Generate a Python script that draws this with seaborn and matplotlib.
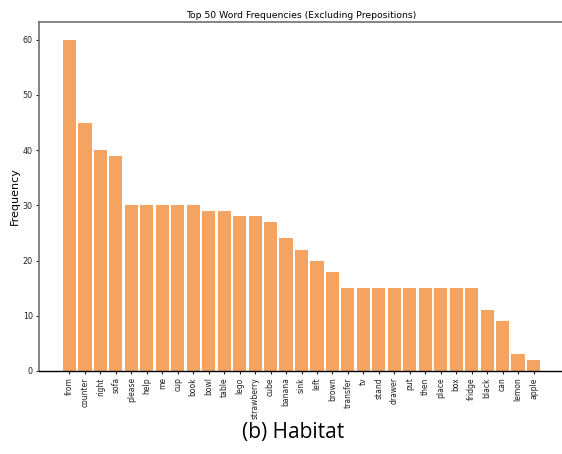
import matplotlib
matplotlib.use("Agg")
import matplotlib.pyplot as plt
import seaborn as sns
import pandas as pd

words = ["from", "counter", "right", "sofa", "please", "help", "me", "cup", "book",
         "bowl", "table", "lego", "strawberry", "cube", "banana", "sink", "left",
         "brown", "transfer", "tv", "stand", "drawer", "put", "then", "place", "box",
         "fridge", "black", "can", "lemon", "apple"]
counts = [60, 45, 40, 39, 30, 30, 30, 30, 30, 29, 29, 28, 28, 27, 24, 22, 20,
          18, 15, 15, 15, 15, 15, 15, 15, 15, 15, 11, 9, 3, 2]
yticks = [0, 10, 20, 30, 40, 50, 60]

df = pd.DataFrame({"word": words, "count": counts})

plt.rcParams['font.family'] = ['DejaVu Sans']

fig = plt.figure(figsize=(5.62, 4.54), dpi=100)
ax = fig.add_axes([39/562, 83/454, 525/562, 349/454])
sns.barplot(data=df, x="word", y="count", color="#F4A460", saturation=1,
            width=0.85, linewidth=0, ax=ax)
ax.set_xlim(-1.97, 31.97)
ax.set_ylim(0, 63.2)
ax.set_yticks(yticks)
ax.tick_params(axis='y', labelsize=5.8, length=2.5, width=0.8, pad=2, colors="#222222")
ax.tick_params(axis='x', labelsize=5.5, length=2.5, width=0.8, pad=2, rotation=90,
               colors="#222222")
ax.set_xlabel("")
ax.set_ylabel("Frequency", fontsize=8, labelpad=2)
ax.set_title("Top 50 Word Frequencies (Excluding Prepositions)", fontsize=6.7, pad=3)
for s in ["left", "top", "right"]:
    ax.spines[s].set_color("#707070")
    ax.spines[s].set_linewidth(1.2)
ax.spines["bottom"].set_color("black")
ax.spines["bottom"].set_linewidth(1.0)

fig.text(0.522, 0.025, "(b) Habitat", ha="center", va="bottom", fontsize=15,
         family="Open Sans")
fig.savefig("out.png", dpi=100)
